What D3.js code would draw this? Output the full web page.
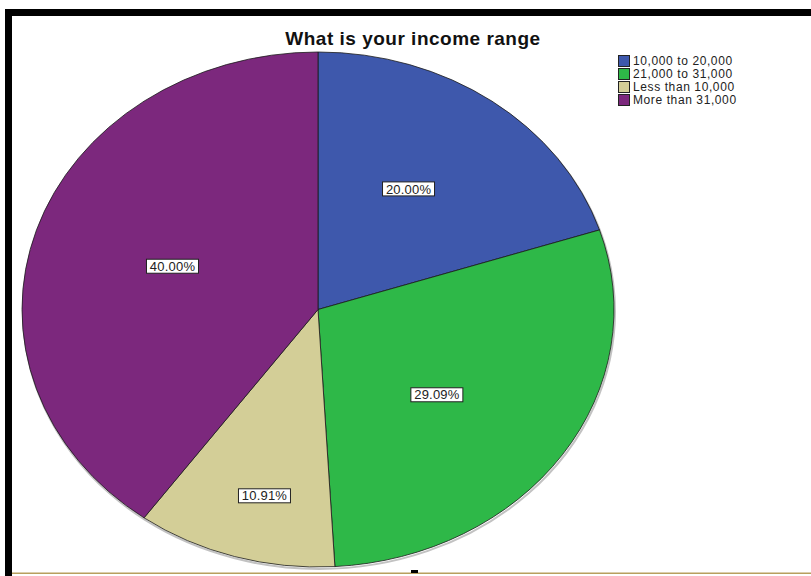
<!DOCTYPE html>
<html>
<head>
<meta charset="utf-8">
<script src="https://cdn.jsdelivr.net/npm/d3@7"></script>
<style>
  html, body { margin: 0; padding: 0; background: #fff; }
  svg { display: block; }
</style>
</head>
<body>
<svg id="chart" width="811" height="576"></svg>
<script>
// ---- data ----
const categories = ["10,000 to 20,000", "21,000 to 31,000", "Less than 10,000", "More than 31,000"];
const counts = [11, 16, 6, 22];               // n = 55
const percentLabels = ["20.00%", "29.09%", "10.91%", "40.00%"];
const colors = ["#3E58AC", "#2EB848", "#D3CE97", "#7C287D"];
const title = "What is your income range";
// label placement (distance from centre along mid-angle, px)
const labelDist = [154, 144, 190, 153];

const svg = d3.select("#chart");

// frame
svg.append("rect").attr("x", 5).attr("y", 9).attr("width", 806).attr("height", 7).attr("fill", "#000");
svg.append("rect").attr("x", 5).attr("y", 9).attr("width", 7).attr("height", 567).attr("fill", "#000");
svg.append("rect").attr("x", 12).attr("y", 572.5).attr("width", 799).attr("height", 1.5).attr("fill", "#b89f5e");
svg.append("rect").attr("x", 411).attr("y", 570).attr("width", 7).attr("height", 3).attr("fill", "#000");

// pie geometry
const cx = 318, cy = 309.5, rx = 296, ry = 257.5;
const pie = d3.pie().sort(null).value(d => d);
const arcs = pie(counts);
const arc = d3.arc().innerRadius(0).outerRadius(rx);

const g = svg.append("g").attr("transform", `translate(${cx},${cy})`);

// soft shadow
g.append("ellipse").attr("cx", 1).attr("cy", 2).attr("rx", rx).attr("ry", ry)
  .attr("fill", "none").attr("stroke", "#999").attr("stroke-width", 2).attr("opacity", 0.6);

const pg = g.append("g").attr("transform", `scale(1,${ry / rx})`);
pg.selectAll("path").data(arcs).join("path")
  .attr("d", arc)
  .attr("fill", (d, i) => colors[i])
  .attr("stroke", "#1a1a1a")
  .attr("stroke-width", 0.8)
  .attr("vector-effect", "non-scaling-stroke");

// labels
const lab = g.selectAll("g.lab").data(arcs).join("g").attr("class", "lab")
  .attr("transform", (d, i) => {
    const a = (d.startAngle + d.endAngle) / 2;
    const r = labelDist[i];
    return `translate(${r * Math.sin(a)},${-r * Math.cos(a) + 4})`;
  });
lab.append("rect")
  .attr("x", -26).attr("y", -7).attr("width", 52).attr("height", 14)
  .attr("fill", "#fff").attr("stroke", "#222").attr("stroke-width", 1);
lab.append("text")
  .attr("text-anchor", "middle").attr("dy", "0.36em")
  .attr("font-family", "Liberation Sans, Arial, sans-serif")
  .attr("font-size", 13).attr("letter-spacing", 0.2).attr("fill", "#222")
  .text((d, i) => percentLabels[i]);

// title
svg.append("text").attr("x", 413).attr("y", 45).attr("text-anchor", "middle")
  .attr("font-family", "Liberation Sans, Arial, sans-serif").attr("font-weight", "bold")
  .attr("font-size", 19).attr("letter-spacing", 0.5).attr("fill", "#111").text(title);

// legend
const leg = svg.append("g").attr("transform", "translate(618,55)");
const rows = leg.selectAll("g").data(categories).join("g")
  .attr("transform", (d, i) => `translate(0,${i * 13})`);
rows.append("rect").attr("x", 0.5).attr("y", 0.5).attr("width", 11).attr("height", 11)
  .attr("fill", (d, i) => colors[i]).attr("stroke", "#222").attr("stroke-width", 1);
rows.append("text").attr("x", 15).attr("y", 6).attr("dy", "0.36em")
  .attr("font-family", "Liberation Sans, Arial, sans-serif").attr("font-size", 12)
  .attr("letter-spacing", 0.6).attr("fill", "#222").text(d => d);
</script>
</body>
</html>
